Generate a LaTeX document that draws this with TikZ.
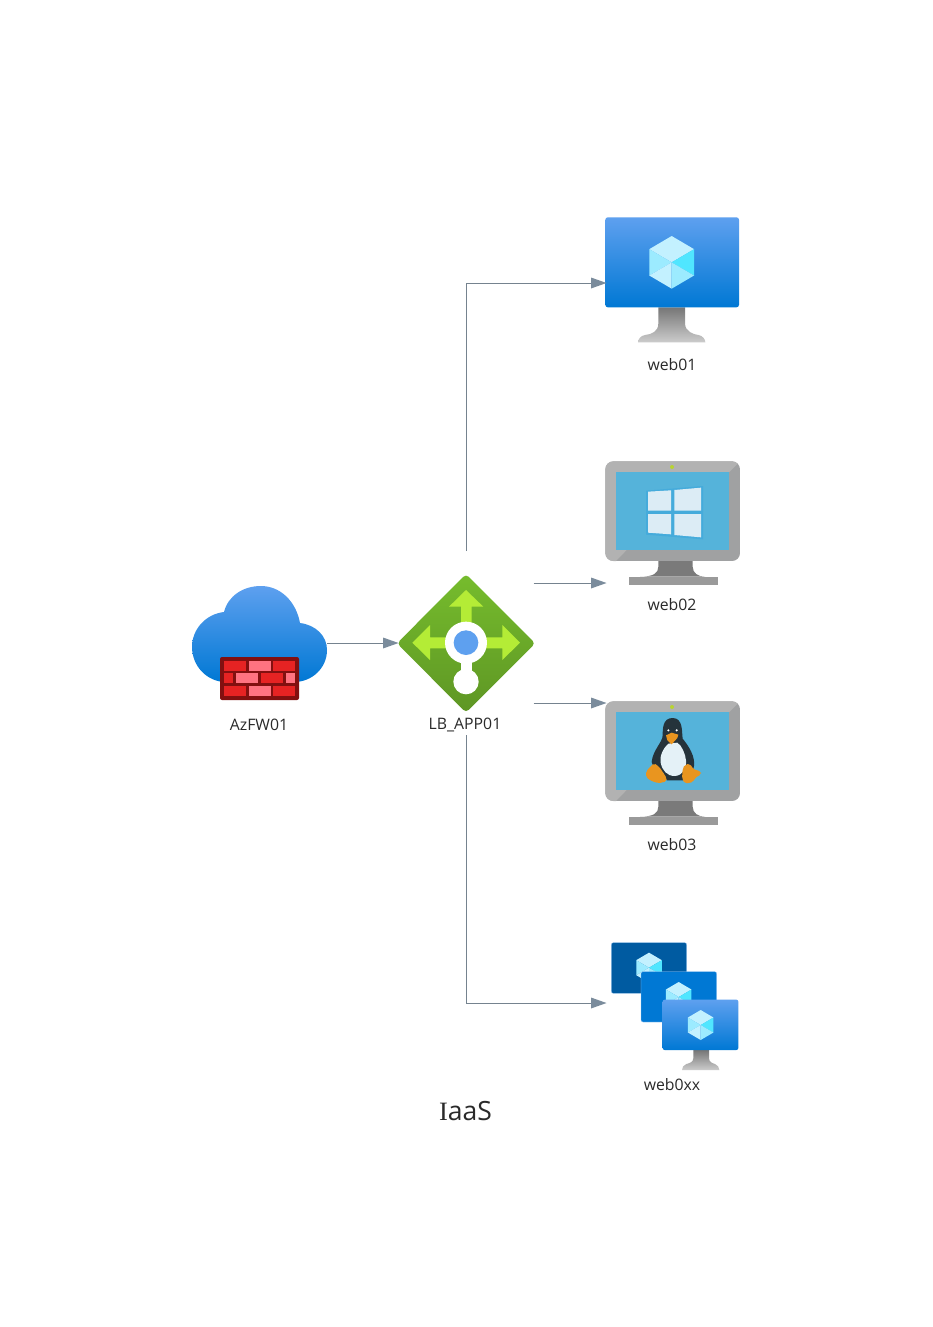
\documentclass[tikz,border=0pt]{standalone}
\usepackage{fontspec}
\setmainfont{Open Sans}
\newfontfamily\serifI{Liberation Serif}
\usetikzlibrary{arrows.meta,calc}
\definecolor{blueTop}{HTML}{5EA0EF}
\definecolor{blueBot}{HTML}{0078D4}
\definecolor{blueDark}{HTML}{005BA1}
\definecolor{standTop}{HTML}{767676}
\definecolor{standBot}{HTML}{CCCCCC}
\definecolor{cubeA}{HTML}{C3F1FF}
\definecolor{cubeB}{HTML}{9CEBFF}
\definecolor{cubeC}{HTML}{50E6FF}
\definecolor{edgeBlue}{HTML}{9CC8F5}
\definecolor{frameLight}{HTML}{B2B2B2}
\definecolor{frameDark}{HTML}{A0A1A2}
\definecolor{screenBlue}{HTML}{55B3DA}
\definecolor{led}{HTML}{B8D432}
\definecolor{neck}{HTML}{7A7A7A}
\definecolor{baseGrey}{HTML}{9A9A9A}
\definecolor{winEdge}{HTML}{45ABDB}
\definecolor{winPane}{HTML}{DCECF5}
\definecolor{penguinBlack}{HTML}{25333B}
\definecolor{penguinWhite}{HTML}{E4F1F7}
\definecolor{penguinOrange}{HTML}{E9951F}
\definecolor{brickDark}{HTML}{821010}
\definecolor{brickRed}{HTML}{E62323}
\definecolor{brickPink}{HTML}{FF7381}
\definecolor{lbTop}{HTML}{76BC2D}
\definecolor{lbBot}{HTML}{5E9624}
\definecolor{lbArrow}{HTML}{B4EC36}
\definecolor{connLine}{HTML}{75838F}
\definecolor{connTip}{HTML}{7B8C9C}
\definecolor{labelInk}{HTML}{2A2A2A}
\tikzset{
  iconbox/.style={inner sep=0pt,outer sep=0pt,minimum width=#1},
  lbl/.style={inner sep=0pt,outer sep=0pt,font=\fontsize{15.8}{18}\selectfont,text=labelInk,minimum height=20pt},
  conn/.style={draw=connLine,line width=1pt,-{Triangle[length=15.5pt,width=11pt,color=connTip,fill=connTip,line width=0pt]}},
}
% cube: centre x, y (zoom units), half height
\newcommand{\cubeicon}[3]{%
  \begin{scope}[shift={(#1,#2)},scale=#3/100]
    \fill[cubeA] (0,-100) -- (85,-50) -- (0,0) -- (-85,-50) -- cycle;
    \fill[cubeB] (-85,-50) -- (0,0) -- (-85,50) -- cycle;
    \fill[cubeC] (85,-50) -- (0,0) -- (85,50) -- cycle;
    \fill[cubeA] (-85,50) -- (0,0) -- (0,100) -- cycle;
    \fill[cubeB] (85,50) -- (0,0) -- (0,100) -- cycle;
  \end{scope}}
% grey monitor, origin of a 3x crop
\newcommand{\greymonitor}[2]{%
  \begin{scope}[shift={(#1,#2)},scale=1/3]
    \fill[neck] (205,330) -- (308,330) -- (308,350) .. controls (308,370) and (325,380) .. (345,380)
      -- (150,380) .. controls (190,380) and (205,370) .. (205,350) -- cycle;
    \fill[baseGrey] (118,380) rectangle (385,406);
    \begin{scope}
      \clip[rounded corners=8pt] (46,34) rectangle (450,333);
      \fill[frameDark] (46,34) rectangle (450,333);
      \fill[frameLight] (46,34) -- (450,34) -- (418,66) -- (78,66) -- (78,300) -- (110,300) -- (78,333) -- (46,333) -- cycle;
    \end{scope}
    \fill[screenBlue] (78,66) rectangle (418,300);
    \fill[led] (246,51) circle (6);
  \end{scope}}
\begin{document}
\begin{tikzpicture}[x=1pt,y=-1pt]
\useasboundingbox (0,0) rectangle (932,1327);
\fill[white] (0,0) rectangle (932,1327);

% node boxes (invisible, carry the connectors)
\node[iconbox=135pt,minimum height=120pt] (fw) at (259.5,643) {};
\node[iconbox=135pt,minimum height=120pt] (lb) at (466,643) {};
\node[iconbox=134pt,minimum height=132pt] (web01) at (673.5,283) {};
\node[iconbox=134pt,minimum height=122pt] (web02) at (673.5,522) {};
\node[iconbox=134pt,minimum height=122pt] (web03) at (673.5,764) {};
\node[iconbox=134pt,minimum height=120pt] (web0xx) at (673.5,1003) {};

% firewall
\begin{scope}
  \shade[top color=blueTop,bottom color=blueBot,shading angle=0]
    (224,612) .. controls (228,596) and (243,586) .. (261,586)
    .. controls (280,586) and (296,601) .. (300,623)
    .. controls (316,625) and (327,636) .. (327,650)
    .. controls (327,668) and (312,682) .. (294,682)
    -- (226,682)
    .. controls (207,682) and (192,666) .. (192,647)
    .. controls (192,629) and (206,614) .. (224,612) -- cycle;
  \fill[brickDark,rounded corners=2pt] (220,657) rectangle (299,700);
  \foreach \ya/\yb in {660.7/670.7,686/696}{
    \fill[brickRed] (224,\ya) rectangle (245.7,\yb);
    \fill[brickPink] (248.7,\ya) rectangle (270.7,\yb);
    \fill[brickRed] (273.3,\ya) rectangle (295,\yb);
  }
  \fill[brickRed] (224,673.3) rectangle (233,683.3);
  \fill[brickPink] (236,673.3) rectangle (257.7,683.3);
  \fill[brickRed] (261,673.3) rectangle (282.7,683.3);
  \fill[brickPink] (286,673.3) rectangle (295,683.3);
\end{scope}

% load balancer
\begin{scope}[shift={(385,565)},scale=1/3]
  \shade[top color=lbTop,bottom color=lbBot,rounded corners=4pt]
    (243,27) -- (451,235) -- (243,443) -- (36,235) -- cycle;
  \fill[lbArrow] (228,200) -- (228,125) -- (192,125) -- (243,75) -- (295,125) -- (260,125) -- (260,200) -- cycle;
  \fill[lbArrow] (200,217) -- (135,217) -- (135,180) -- (82,233) -- (135,285) -- (135,250) -- (200,250) -- cycle;
  \fill[lbArrow] (290,217) -- (352,217) -- (352,180) -- (405,233) -- (352,285) -- (352,250) -- (290,250) -- cycle;
  \fill[white] (228,280) rectangle (260,325);
  \fill[white] (243,233) circle (63);
  \fill[blueTop] (243,233) circle (37);
  \fill[white] (243,350) circle (38);
\end{scope}

% web01
\begin{scope}[shift={(590,200)},scale=1/3]
  \shade[top color=standTop,bottom color=standBot]
    (205,322) -- (285,322) -- (285,370) .. controls (285,395) and (310,403) .. (325,405)
    .. controls (338,407) and (346,418) .. (346,427) -- (144,427)
    .. controls (144,418) and (152,407) .. (165,405)
    .. controls (185,403) and (205,395) .. (205,370) -- cycle;
  \shade[top color=blueTop,bottom color=blueBot,rounded corners=2.5pt]
    (46,52) rectangle (447,322);
  \cubeicon{245}{187}{79}
\end{scope}

% web02
\greymonitor{590}{450}
\begin{scope}[shift={(590,450)},scale=1/3]
  \fill[winEdge] (168,122) -- (339,108) -- (339,268) -- (168,254) -- cycle;
  \fill[winPane] (174,125) -- (243,121) -- (243,182) -- (174,182) -- cycle;
  \fill[winPane] (253,120) -- (333,113) -- (333,182) -- (253,182) -- cycle;
  \fill[winPane] (174,192) -- (243,192) -- (243,253) -- (174,248) -- cycle;
  \fill[winPane] (253,192) -- (333,192) -- (333,262) -- (253,255) -- cycle;
\end{scope}

% web03
\greymonitor{590}{690}
\begin{scope}[shift={(640,712)},scale=1/3]
  \fill[penguinBlack] (98,18) .. controls (68,18) and (68,50) .. (68,70)
    .. controls (68,90) and (38,115) .. (35,150)
    .. controls (36,165) and (55,175) .. (70,182)
    -- (80,205) -- (135,205) -- (160,172)
    .. controls (172,135) and (140,95) .. (128,80)
    .. controls (125,60) and (130,18) .. (98,18) -- cycle;
  \fill[penguinWhite] (85,95) .. controls (68,110) and (58,135) .. (62,152)
    .. controls (67,175) and (80,192) .. (105,192)
    .. controls (128,190) and (140,170) .. (138,145)
    .. controls (136,125) and (125,100) .. (112,92) -- cycle;
  \fill[white] (85,55) circle (3.5);
  \fill[white] (110,55) circle (3.5);
  \fill[penguinOrange] (78,70) -- (95,62) -- (115,68) -- (112,78) -- (95,97) -- (82,85) -- cycle;
  \fill[penguinOrange,rounded corners=2pt] (18,178) -- (42,153) -- (58,165) -- (80,198) -- (80,208) -- (55,214) -- (30,205) -- (18,195) -- cycle;
  \fill[penguinOrange,rounded corners=2pt] (128,170) -- (135,158) -- (150,155) -- (160,172) -- (183,178) -- (183,188) -- (165,197) -- (160,210) -- (135,215) -- (126,200) -- cycle;
\end{scope}

% web0xx
\begin{scope}[shift={(590,930)},scale=1/3]
  \fill[blueDark,draw=edgeBlue,line width=0.3pt,rounded corners=2pt] (64,38) rectangle (290,190);
  \cubeicon{177}{113}{45}
  \fill[blueBot,draw=edgeBlue,line width=0.3pt,rounded corners=2pt] (153,125) rectangle (380,276);
  \cubeicon{266}{201}{45}
  \shade[top color=standTop,bottom color=standBot]
    (310,360) -- (357,360) -- (357,385) .. controls (357,398) and (370,400) .. (375,402)
    .. controls (383,405) and (388,412) .. (388,420) -- (276,420)
    .. controls (276,412) and (281,405) .. (289,402)
    .. controls (295,400) and (310,398) .. (310,385) -- cycle;
  \shade[top color=blueTop,bottom color=blueBot,rounded corners=2pt] (218,209) rectangle (445,360);
  \cubeicon{332}{285}{45}
\end{scope}

% labels
\node[lbl] (fwlabel) at (259,724.5) {AzFW01};
\node[lbl] (lblabel) at (465,725) {LB\_APP01};
\node[lbl] (web01label) at (672,364.5) {web01};
\node[lbl] (web02label) at (672,604.5) {web02};
\node[lbl] (web03label) at (672,844.5) {web03};
\node[lbl] (web0xxlabel) at (672,1084.5) {web0xx};
\node[inner sep=0pt,font=\fontsize{26.5}{30}\selectfont,text=labelInk] (title) at (465.5,1111) {{\serifI I}aaS};

% connectors
\draw[conn] (fw.east) -- (lb.west);
\draw[conn] ([yshift=32pt]lb.north) |- (web01.west);
\draw[conn] (lb.north east) -- (web02.south west);
\draw[conn] (lb.south east) -- (web03.north west);
\draw[conn] (lb.south |- lblabel.south) |- (web0xx.west);
\end{tikzpicture}
\end{document}
